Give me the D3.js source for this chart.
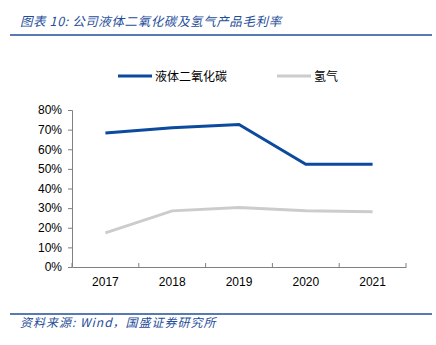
<!DOCTYPE html>
<html>
<head>
<meta charset="utf-8">
<script src="https://cdn.jsdelivr.net/npm/d3@7"></script>
<style>
  body { margin: 0; background: #fff; }
  svg { display: block; }
</style>
</head>
<body>
<div id="chart"></div>
<script>
const years = ["2017", "2018", "2019", "2020", "2021"];
const co2Margin = [68.3, 71.0, 72.6, 52.4, 52.3];
const h2Margin = [17.4, 28.6, 30.3, 28.7, 28.1];
const yTicks = [0, 10, 20, 30, 40, 50, 60, 70, 80];
const seriesNames = ["液体二氧化碳", "氢气"];
const seriesColors = ["#0B4A9E", "#CCCCCC"];

const width = 436, height = 345;
const margin = { left: 72, right: 30, top: 110, bottom: 78 };

const svg = d3.select("#chart")
  .append("svg")
  .attr("width", width)
  .attr("height", height);

// header
svg.append("text")
  .attr("x", 20)
  .attr("y", 26)
  .attr("font-family", "'Noto Sans CJK SC', sans-serif")
  .attr("font-style", "italic")
  .attr("font-size", 12.5)
  .attr("letter-spacing", 0.6)
  .attr("fill", "#1F4E9A")
  .text("图表 10:  公司液体二氧化碳及氢气产品毛利率");

svg.append("line")
  .attr("x1", 10).attr("x2", 432)
  .attr("y1", 35).attr("y2", 35)
  .attr("stroke", "#1F4E9A")
  .attr("stroke-width", 1.5);

// footer
svg.append("line")
  .attr("x1", 10).attr("x2", 432)
  .attr("y1", 314).attr("y2", 314)
  .attr("stroke", "#1F4E9A")
  .attr("stroke-width", 1.5);

svg.append("text")
  .attr("x", 20)
  .attr("y", 327)
  .attr("font-family", "'Noto Sans CJK SC', sans-serif")
  .attr("font-style", "italic")
  .attr("font-size", 12)
  .attr("letter-spacing", 1)
  .attr("fill", "#1F4E9A")
  .text("资料来源:  Wind，国盛证券研究所");

const x = d3.scaleBand()
  .domain(years)
  .range([margin.left, width - margin.right]);

const y = d3.scaleLinear()
  .domain([0, 80])
  .range([height - margin.bottom, margin.top]);

// axes
const xAxis = svg.append("g")
  .attr("transform", `translate(0,${height - margin.bottom})`)
  .call(d3.axisBottom(x).tickSize(0).tickPadding(10));

xAxis.select(".domain").attr("stroke", "#808080");
xAxis.selectAll("text")
  .attr("font-family", "'Liberation Sans', Arial, sans-serif")
  .attr("font-size", 12)
  .attr("fill", "#000");

// tick marks between categories
const xBounds = years.map(d => x(d)).concat([x(years[years.length - 1]) + x.bandwidth()]);
svg.append("g")
  .selectAll("line")
  .data(xBounds)
  .enter().append("line")
  .attr("x1", d => d).attr("x2", d => d)
  .attr("y1", height - margin.bottom)
  .attr("y2", height - margin.bottom - 4)
  .attr("stroke", "#808080");

const yAxis = svg.append("g")
  .attr("transform", `translate(${margin.left},0)`)
  .call(d3.axisLeft(y).tickValues(yTicks).tickSize(4).tickPadding(6).tickFormat(d => d + "%"));

yAxis.select(".domain").attr("stroke", "#808080");
yAxis.selectAll(".tick line").attr("stroke", "#808080");
yAxis.selectAll("text")
  .attr("font-family", "'Liberation Sans', Arial, sans-serif")
  .attr("font-size", 12)
  .attr("fill", "#000");

// lines
const line = d3.line()
  .x((d, i) => x(years[i]) + x.bandwidth() / 2)
  .y(d => y(d));

[h2Margin, co2Margin].forEach((vals, k) => {
  svg.append("path")
    .datum(vals)
    .attr("fill", "none")
    .attr("stroke", seriesColors[1 - k])
    .attr("stroke-width", 3)
    .attr("d", line);
});

// legend
const legendX = [118, 277];
const legend = svg.append("g");
const item = legend.selectAll("g")
  .data(seriesNames)
  .enter().append("g")
  .attr("transform", (d, i) => `translate(${legendX[i]},76)`);

item.append("line")
  .attr("x1", 0).attr("x2", 34)
  .attr("stroke", (d, i) => seriesColors[i])
  .attr("stroke-width", 3);

item.append("text")
  .attr("x", 37)
  .attr("y", 4.5)
  .attr("font-family", "'Noto Sans CJK SC', sans-serif")
  .attr("font-size", 12)
  .attr("fill", "#000")
  .text(d => d);
</script>
</body>
</html>
